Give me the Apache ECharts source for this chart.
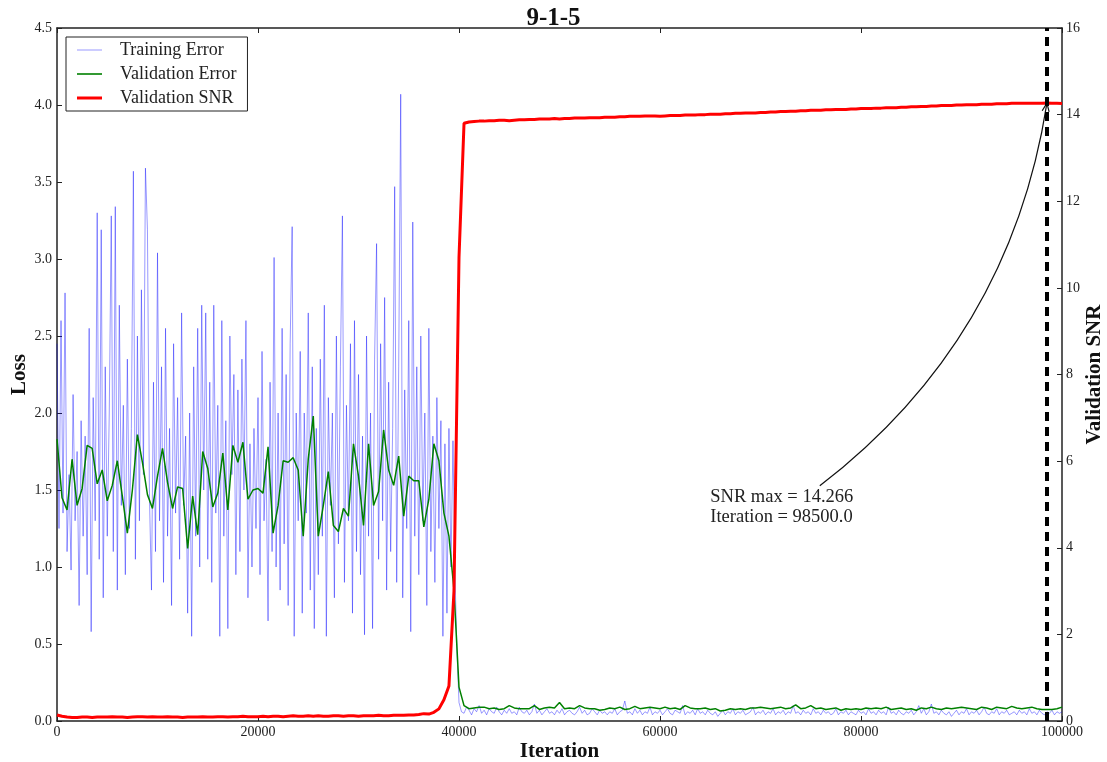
<!DOCTYPE html>
<html lang="en">
<head>
<meta charset="UTF-8">
<title>9-1-5</title>
<script src="https://cdn.jsdelivr.net/npm/echarts@6/dist/echarts.min.js"></script>
<style>
    html, body { margin: 0; padding: 0; background: #fff; }
    #chart { width: 1107px; height: 762px; }
</style>
</head>
<body>
<div id="chart"></div>
<script>
    // training loss, every 200 iterations up to 39800
    var trainPre = [
        2.45, 1.25, 2.60, 1.35, 2.78, 1.10, 1.60, 0.98, 2.12, 1.30,
        1.75, 0.75, 1.95, 1.20, 1.85, 0.95, 2.55, 0.58, 2.10, 1.30,
        3.30, 1.05, 3.19, 0.80, 2.30, 1.20, 2.00, 3.28, 1.10, 3.34,
        0.85, 2.70, 1.40, 2.05, 0.95, 2.35, 1.25, 1.90, 3.57, 1.05,
        2.50, 1.30, 2.80, 1.60, 3.59, 3.19, 1.45, 0.85, 2.20, 1.10,
        3.04, 1.30, 2.30, 0.90, 2.55, 1.20, 1.90, 0.75, 2.45, 1.35,
        2.10, 1.05, 2.65, 1.40, 1.85, 0.70, 2.00, 0.55, 2.30, 1.20,
        2.55, 1.00, 2.70, 1.50, 2.65, 1.05, 2.20, 0.90, 2.70, 1.35,
        2.05, 0.55, 2.60, 1.20, 1.95, 0.60, 2.50, 1.60, 2.25, 0.95,
        2.15, 1.10, 2.35, 1.50, 2.60, 0.80, 1.80, 1.00, 1.90, 1.25,
        2.10, 0.95, 2.40, 1.30, 1.70, 0.65, 2.20, 1.10, 3.01, 1.00,
        2.00, 0.85, 2.55, 1.15, 2.25, 0.75, 2.45, 3.21, 0.55, 2.00,
        1.30, 2.40, 0.70, 2.00, 1.35, 2.65, 0.85, 2.30, 0.60, 1.90,
        0.95, 2.35, 1.20, 2.70, 0.55, 2.10, 1.40, 2.00, 0.80, 2.50,
        1.15, 2.30, 3.28, 0.90, 2.05, 1.30, 2.45, 0.70, 2.60, 1.10,
        2.25, 0.95, 1.85, 0.56, 2.50, 1.20, 2.00, 0.60, 2.35, 3.10,
        1.05, 2.45, 1.30, 2.75, 0.85, 2.20, 1.10, 1.90, 3.47, 0.90,
        2.30, 4.07, 0.80, 2.15, 1.25, 2.60, 0.58, 3.24, 1.20, 2.30,
        0.95, 2.50, 1.30, 2.00, 0.75, 2.55, 1.10, 1.85, 0.90, 2.10,
        1.25, 1.95, 0.55, 1.80, 0.70, 1.90, 1.00, 1.82, 0.95, 0.45
    ];
    // training loss, every 250 iterations from 40000
    var trainPost = [
        0.12, 0.06, 0.05, 0.09, 0.07, 0.04, 0.08, 0.06, 0.10, 0.05, 0.07, 0.04, 0.08, 0.06, 0.05, 0.09, 0.06, 0.04, 0.07, 0.05,
        0.08, 0.05, 0.06, 0.04, 0.09, 0.06, 0.05, 0.07, 0.04, 0.06, 0.11, 0.05, 0.07, 0.04, 0.06, 0.08, 0.05, 0.06, 0.04, 0.07,
        0.05, 0.08, 0.04, 0.06, 0.07, 0.05, 0.04, 0.06, 0.09, 0.05, 0.07, 0.04, 0.05, 0.08, 0.06, 0.04, 0.07, 0.05, 0.06, 0.04,
        0.06, 0.05, 0.08, 0.04, 0.06, 0.07, 0.13, 0.05, 0.06, 0.04, 0.08, 0.05, 0.07, 0.04, 0.06, 0.05, 0.09, 0.04, 0.06, 0.05,
        0.07, 0.04, 0.06, 0.08, 0.05, 0.04, 0.07, 0.06, 0.05, 0.10, 0.04, 0.06, 0.05, 0.07, 0.04, 0.08, 0.05, 0.06, 0.04, 0.07,
        0.05, 0.04, 0.06, 0.03, 0.05, 0.07, 0.04, 0.06, 0.05, 0.08, 0.04, 0.06, 0.05, 0.07, 0.04, 0.05, 0.06, 0.09, 0.04, 0.06,
        0.05, 0.07, 0.04, 0.06, 0.05, 0.08, 0.04, 0.06, 0.05, 0.07, 0.04, 0.06, 0.05, 0.10, 0.05, 0.06, 0.04, 0.07, 0.05, 0.06,
        0.04, 0.08, 0.05, 0.06, 0.04, 0.07, 0.05, 0.06, 0.04, 0.05, 0.08, 0.04, 0.06, 0.05, 0.07, 0.04, 0.06, 0.05, 0.04, 0.07,
        0.05, 0.06, 0.04, 0.08, 0.05, 0.06, 0.04, 0.07, 0.05, 0.06, 0.04, 0.09, 0.05, 0.06, 0.04, 0.07, 0.05, 0.04, 0.06, 0.05,
        0.07, 0.04, 0.06, 0.10, 0.05, 0.08, 0.04, 0.06, 0.11, 0.05, 0.06, 0.04, 0.07, 0.05, 0.04, 0.06, 0.03, 0.05, 0.07, 0.04,
        0.06, 0.05, 0.08, 0.04, 0.06, 0.05, 0.07, 0.04, 0.06, 0.09, 0.05, 0.04, 0.06, 0.05, 0.08, 0.04, 0.06, 0.05, 0.07, 0.04,
        0.05, 0.06, 0.04, 0.07, 0.05, 0.06, 0.04, 0.08, 0.05, 0.06, 0.04, 0.07, 0.05, 0.04, 0.06, 0.05, 0.07, 0.04, 0.06, 0.05,
        0.06
    ];
    // validation loss, every 500 iterations
    var valLoss = [
        1.83, 1.45, 1.37, 1.70, 1.40, 1.51, 1.79, 1.77, 1.54, 1.63,
        1.43, 1.53, 1.69, 1.46, 1.22, 1.50, 1.86, 1.68, 1.47, 1.38,
        1.59, 1.77, 1.55, 1.38, 1.52, 1.51, 1.12, 1.46, 1.21, 1.75,
        1.64, 1.39, 1.48, 1.74, 1.37, 1.79, 1.68, 1.81, 1.44, 1.50,
        1.51, 1.48, 1.78, 1.22, 1.40, 1.69, 1.68, 1.71, 1.63, 1.20,
        1.70, 1.98, 1.20, 1.40, 1.62, 1.27, 1.23, 1.38, 1.33, 1.80,
        1.59, 1.27, 1.80, 1.40, 1.49, 1.89, 1.63, 1.53, 1.72, 1.33,
        1.59, 1.56, 1.56, 1.26, 1.44, 1.80, 1.69, 1.35, 1.20, 0.85,
        0.22,
        0.100, 0.080, 0.085, 0.090, 0.090, 0.080, 0.085, 0.075, 0.080, 0.100,
        0.085, 0.080, 0.080, 0.080, 0.100, 0.075, 0.085, 0.090, 0.085, 0.120,
        0.080, 0.085, 0.080, 0.100, 0.085, 0.080, 0.080, 0.070, 0.075, 0.085,
        0.080, 0.090, 0.075, 0.080, 0.095, 0.080, 0.085, 0.090, 0.085, 0.080,
        0.090, 0.080, 0.085, 0.075, 0.100, 0.085, 0.080, 0.080, 0.085, 0.075,
        0.080, 0.065, 0.070, 0.080, 0.075, 0.080, 0.075, 0.085, 0.085, 0.090,
        0.085, 0.080, 0.085, 0.090, 0.080, 0.085, 0.105, 0.080, 0.085, 0.100,
        0.080, 0.085, 0.075, 0.080, 0.085, 0.070, 0.080, 0.075, 0.080, 0.075,
        0.085, 0.080, 0.085, 0.080, 0.090, 0.075, 0.080, 0.085, 0.075, 0.080,
        0.070, 0.085, 0.080, 0.090, 0.080, 0.075, 0.085, 0.080, 0.085, 0.090,
        0.085, 0.080, 0.075, 0.090, 0.085, 0.075, 0.090, 0.085, 0.080, 0.095,
        0.085, 0.080, 0.085, 0.090, 0.080, 0.075, 0.075, 0.075, 0.080, 0.090
    ];
    // validation SNR, every 500 iterations
    var valSnr = [
        0.14, 0.11, 0.09, 0.08, 0.08, 0.09, 0.09, 0.08, 0.09, 0.09,
        0.09, 0.10, 0.09, 0.09, 0.08, 0.09, 0.10, 0.10, 0.09, 0.10,
        0.09, 0.09, 0.10, 0.09, 0.09, 0.08, 0.09, 0.09, 0.09, 0.10,
        0.09, 0.09, 0.10, 0.10, 0.09, 0.10, 0.10, 0.11, 0.10, 0.10,
        0.10, 0.11, 0.10, 0.11, 0.11, 0.10, 0.11, 0.12, 0.11, 0.11,
        0.12, 0.11, 0.12, 0.11, 0.11, 0.12, 0.12, 0.11, 0.12, 0.12,
        0.11, 0.12, 0.12, 0.12, 0.13, 0.12, 0.12, 0.13, 0.13, 0.13,
        0.14, 0.14, 0.15, 0.17,
        0.16, 0.20, 0.28, 0.49, 0.81, 3.00, 10.70, 13.80,
        13.83, 13.84, 13.85, 13.85, 13.86, 13.86, 13.87, 13.87, 13.86, 13.87,
        13.88, 13.88, 13.89, 13.89, 13.90, 13.90, 13.90, 13.91, 13.90, 13.91,
        13.91, 13.92, 13.92, 13.92, 13.93, 13.93, 13.93, 13.94, 13.94, 13.94,
        13.95, 13.95, 13.96, 13.96, 13.96, 13.97, 13.97, 13.97, 13.96, 13.97,
        13.98, 13.98, 13.98, 13.99, 13.99, 13.99, 14.00, 14.00, 14.01, 14.01,
        14.01, 14.02, 14.02, 14.03, 14.03, 14.04, 14.04, 14.04, 14.05, 14.05,
        14.06, 14.06, 14.07, 14.07, 14.08, 14.08, 14.09, 14.09, 14.10, 14.10,
        14.10, 14.11, 14.11, 14.12, 14.12, 14.12, 14.13, 14.13, 14.14, 14.14,
        14.14, 14.15, 14.15, 14.16, 14.16, 14.16, 14.17, 14.17, 14.18, 14.18,
        14.19, 14.19, 14.20, 14.20, 14.21, 14.21, 14.21, 14.22, 14.22, 14.23,
        14.23, 14.23, 14.24, 14.24, 14.24, 14.25, 14.25, 14.25, 14.26, 14.26,
        14.26, 14.26, 14.262, 14.263, 14.264, 14.266, 14.262, 14.26, 14.258
    ];

    var bestIter = 98500;
    var bestSnr = 14.266;
    var arrowFrom = [75900, 5.43];
    var noteAt = [65000, 5.4];

    var serif = 'Liberation Serif';

    function pairs(values, start, step) {
        return values.map(function (v, i) { return [start + i * step, v]; });
    }
    var trainData = pairs(trainPre, 0, 200).concat(pairs(trainPost, 40000, 250));
    var valData = pairs(valLoss, 0, 500);
    var snrData = pairs(valSnr, 0, 500);

    var frame = {show: true, onZero: false, lineStyle: {color: '#222', width: 1.5}};
    var ticks = {show: true, inside: true, length: 5, lineStyle: {color: '#222', width: 1}};
    var labels = {color: '#222', fontFamily: serif, fontSize: 14};
    var nameStyle = {color: '#111', fontFamily: serif, fontSize: 21, fontWeight: 'bold'};

    var chart = echarts.init(document.getElementById('chart'));
    chart.setOption({
        animation: false,
        backgroundColor: '#fff',
        title: {
            text: '9-1-5',
            left: 'center',
            top: 1,
            textStyle: {fontFamily: serif, fontSize: 25, fontWeight: 'bold', color: '#111'}
        },
        legend: {
            left: 66,
            top: 37,
            orient: 'vertical',
            backgroundColor: '#fff',
            borderColor: '#222',
            borderWidth: 1,
            borderRadius: 0,
            padding: [4, 11, 4, 11],
            itemWidth: 25,
            itemHeight: 3,
            itemGap: 6,
            textStyle: {fontFamily: serif, fontSize: 18, color: '#222', padding: [0, 0, 0, 13]},
            data: [
                {name: 'Training Error', icon: 'path://M0,0H25V1H0Z'},
                {name: 'Validation Error', icon: 'path://M0,0H25V1.6H0Z'},
                {name: 'Validation SNR', icon: 'path://M0,0H25V3H0Z'}
            ]
        },
        grid: {left: 57, right: 45, top: 28, bottom: 41, outerBoundsMode: 'none', containLabel: false},
        xAxis: [
            {
                type: 'value', min: 0, max: 100000, interval: 20000, position: 'bottom',
                name: 'Iteration', nameLocation: 'middle', nameGap: 20, nameMoveOverlap: false, nameTextStyle: nameStyle,
                axisLine: frame, axisTick: ticks, splitLine: {show: false},
                axisLabel: Object.assign({margin: 4, formatter: function (v) { return String(v); }}, labels)
            },
            {
                type: 'value', min: 0, max: 100000, interval: 20000, position: 'top',
                axisLine: frame, axisTick: ticks, splitLine: {show: false}, axisLabel: {show: false}
            }
        ],
        yAxis: [
            {
                type: 'value', min: 0, max: 4.5, interval: 0.5, position: 'left',
                name: 'Loss', nameLocation: 'middle', nameGap: 27, nameRotate: 90, nameMoveOverlap: false, nameTextStyle: nameStyle,
                axisLine: frame, axisTick: ticks, splitLine: {show: false},
                axisLabel: Object.assign({margin: 5, formatter: function (v) { return v.toFixed(1); }}, labels)
            },
            {
                type: 'value', min: 0, max: 16, interval: 2, position: 'right',
                name: 'Validation SNR', nameLocation: 'middle', nameGap: 22, nameRotate: 90, nameMoveOverlap: false, nameTextStyle: nameStyle,
                axisLine: frame, axisTick: ticks, splitLine: {show: false},
                axisLabel: Object.assign({margin: 4}, labels)
            }
        ],
        series: [
            {
                name: 'Training Error', type: 'line', xAxisIndex: 0, yAxisIndex: 0,
                data: trainData, showSymbol: false, symbol: 'none',
                lineStyle: {color: 'rgba(0,0,255,0.4)', width: 1},
                itemStyle: {color: 'rgba(0,0,255,0.4)'},
                // dashed marker at the best iteration
                markLine: {
                    silent: true,
                    animation: false,
                    symbol: ['none', 'none'],
                    label: {show: false},
                    lineStyle: {color: '#000', width: 4, type: [9, 6]},
                    data: [{xAxis: bestIter}]
                }
            },
            {
                name: 'Validation Error', type: 'line', xAxisIndex: 0, yAxisIndex: 0,
                data: valData, showSymbol: false, symbol: 'none',
                lineStyle: {color: '#008000', width: 1.5},
                itemStyle: {color: '#008000'}
            },
            {
                name: 'Validation SNR', type: 'line', xAxisIndex: 0, yAxisIndex: 1,
                data: snrData, showSymbol: false, symbol: 'none',
                lineStyle: {color: '#ff0000', width: 3},
                itemStyle: {color: '#ff0000'}
            }
        ]
    });

    // annotation: text plus a curved arrow to the SNR maximum
    var snrCoord = {xAxisIndex: 0, yAxisIndex: 1};
    var p = chart.convertToPixel(snrCoord, noteAt);
    var a = chart.convertToPixel(snrCoord, arrowFrom);
    var b = chart.convertToPixel(snrCoord, [bestIter, bestSnr]);
    var rad = 0.2;
    var cx = (a[0] + b[0]) / 2 - rad * (b[1] - a[1]);
    var cy = (a[1] + b[1]) / 2 + rad * (b[0] - a[0]);
    var tx = b[0] - cx, ty = b[1] - cy, tl = Math.sqrt(tx * tx + ty * ty);
    tx /= tl; ty /= tl;
    var head = 9, ang = 0.4;
    function back(s) {
        var c = Math.cos(s * ang), n = Math.sin(s * ang);
        return [b[0] - head * (tx * c - ty * n), b[1] - head * (tx * n + ty * c)];
    }

    chart.setOption({
        graphic: [
            {
                type: 'text',
                x: p[0],
                y: p[1],
                style: {
                    text: 'SNR max = ' + bestSnr + '\nIteration = ' + bestIter.toFixed(1),
                    fontFamily: serif,
                    fontSize: 18.5,
                    lineHeight: 20,
                    fill: '#222',
                    verticalAlign: 'top'
                }
            },
            {
                type: 'bezierCurve',
                silent: true,
                shape: {x1: a[0], y1: a[1], x2: b[0], y2: b[1], cpx1: cx, cpy1: cy},
                style: {stroke: '#111', lineWidth: 1.2, fill: null}
            },
            {
                type: 'polyline',
                silent: true,
                shape: {points: [back(1), b, back(-1)]},
                style: {stroke: '#111', lineWidth: 1.2, fill: null}
            }
        ]
    });
</script>
</body>
</html>
